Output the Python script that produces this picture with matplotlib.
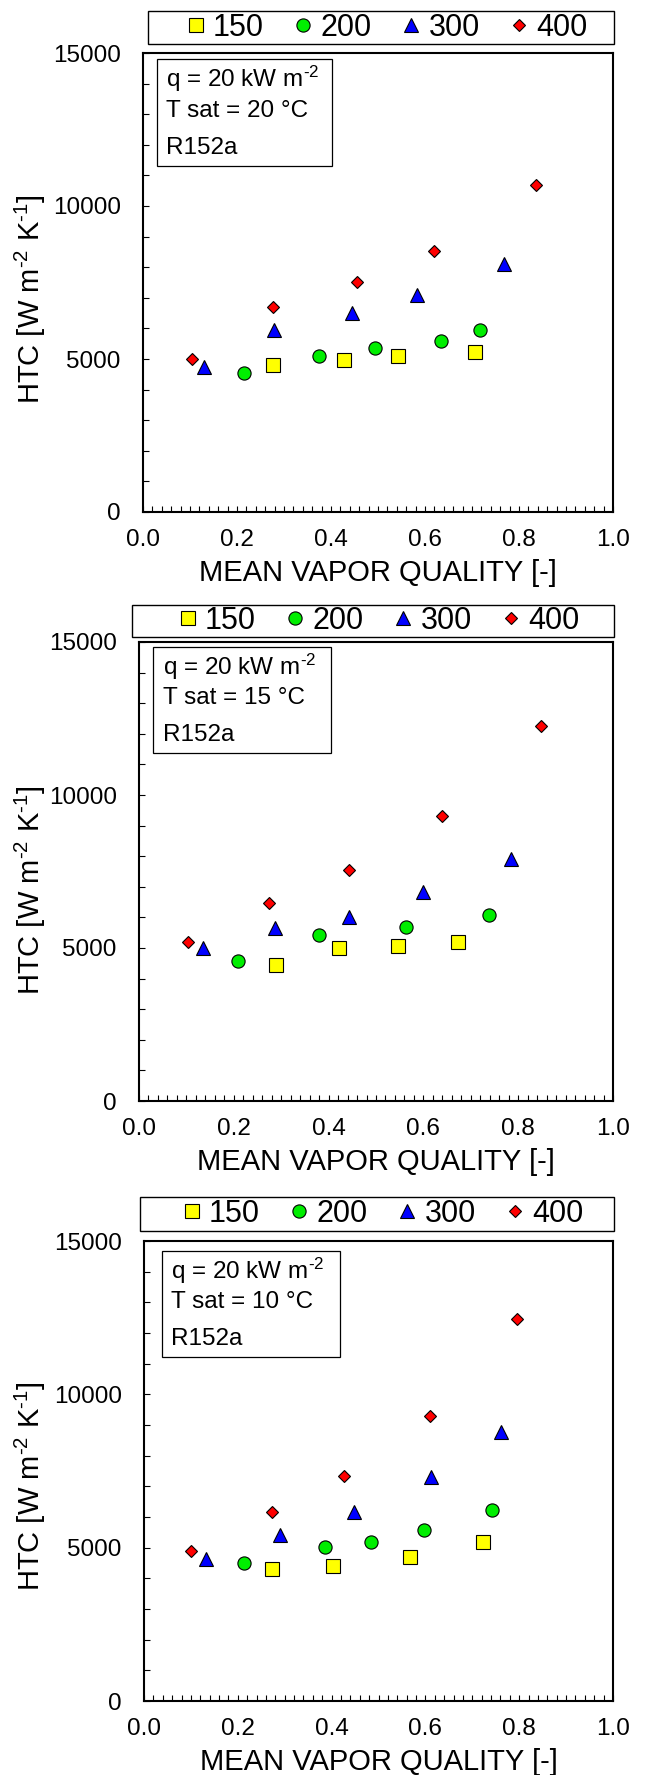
import matplotlib
matplotlib.use("Agg")
import matplotlib.pyplot as plt
from matplotlib.patches import Rectangle
from matplotlib.lines import Line2D
from matplotlib.ticker import MultipleLocator

plt.rcParams['font.family'] = ['Liberation Sans', 'DejaVu Sans']
plt.rcParams['mathtext.fontset'] = 'custom'
plt.rcParams['mathtext.rm'] = 'Liberation Sans'
plt.rcParams['mathtext.it'] = 'Liberation Sans'
plt.rcParams['mathtext.default'] = 'regular'

# ---------------- data ----------------
series_labels = ["150", "200", "300", "400"]
panel_tsat = ["20", "15", "10"]

# Tsat = 20 °C
x150_t20 = [0.276, 0.427, 0.543, 0.706]
y150_t20 = [4820, 4960, 5100, 5230]
x200_t20 = [0.214, 0.375, 0.493, 0.633, 0.718]
y200_t20 = [4550, 5110, 5350, 5600, 5940]
x300_t20 = [0.129, 0.279, 0.445, 0.584, 0.769]
y300_t20 = [4750, 5950, 6500, 7090, 8110]
x400_t20 = [0.104, 0.277, 0.456, 0.620, 0.837]
y400_t20 = [5010, 6700, 7510, 8540, 10680]

# Tsat = 15 °C
x150_t15 = [0.289, 0.421, 0.546, 0.672]
y150_t15 = [4440, 4990, 5050, 5190]
x200_t15 = [0.208, 0.379, 0.563, 0.738]
y200_t15 = [4560, 5410, 5700, 6070]
x300_t15 = [0.134, 0.286, 0.444, 0.600, 0.784]
y300_t15 = [4990, 5650, 6020, 6830, 7920]
x400_t15 = [0.103, 0.275, 0.443, 0.640, 0.848]
y400_t15 = [5210, 6460, 7540, 9310, 12270]

# Tsat = 10 °C
x150_t10 = [0.273, 0.404, 0.568, 0.722]
y150_t10 = [4320, 4400, 4700, 5190]
x200_t10 = [0.214, 0.385, 0.485, 0.596, 0.741]
y200_t10 = [4500, 5030, 5200, 5570, 6240]
x300_t10 = [0.133, 0.289, 0.447, 0.611, 0.762]
y300_t10 = [4620, 5400, 6150, 7320, 8770]
x400_t10 = [0.101, 0.273, 0.426, 0.610, 0.795]
y400_t10 = [4880, 6170, 7330, 9300, 12460]

panels_data = [
    [(x150_t20, y150_t20), (x200_t20, y200_t20), (x300_t20, y300_t20), (x400_t20, y400_t20)],
    [(x150_t15, y150_t15), (x200_t15, y200_t15), (x300_t15, y300_t15), (x400_t15, y400_t15)],
    [(x150_t10, y150_t10), (x200_t10, y200_t10), (x300_t10, y300_t10), (x400_t10, y400_t10)],
]

# ---------------- styles ----------------
markers = ['s', 'o', '^', 'D']
colors = ['#FFFF00', '#00EE00', '#0000FF', '#FF0000']
msizes = [9.5, 9.5, 9.5, 6.5]

W, H = 646, 1775
fig = plt.figure(figsize=(W / 100, H / 100), dpi=100)

HY = "\u2010"  # hyphen for superscripts

# axes boxes in pixels: left, top, right, bottom
ax_px = [(143, 53, 613, 512), (139, 642, 613, 1101), (144, 1241, 613, 1701)]
leg_px = [(148, 11, 614, 44), (132, 605, 614, 637), (140, 1197, 614, 1231)]
ann_box = [(0.030, 0.753, 0.403, 0.987), (0.030, 0.758, 0.405, 0.989), (0.038, 0.747, 0.418, 0.979)]
ann_x = [0.049, 0.050, 0.057]
ann_y = [(0.944, 0.874, 0.794), (0.946, 0.879, 0.798), (0.935, 0.868, 0.788)]
ylab_cy = [299, 890, 1486]

for i in range(3):
    l, t, r, b = ax_px[i]
    ax = fig.add_axes([l / W, 1 - b / H, (r - l) / W, (b - t) / H])
    for j in range(4):
        xs, ys = panels_data[i][j]
        ax.plot(xs, ys, linestyle='none', marker=markers[j], markersize=msizes[j],
                markerfacecolor=colors[j], markeredgecolor='black', markeredgewidth=0.8,
                zorder=3)
    ax.set_xlim(0, 1.0)
    ax.set_ylim(0, 15000)
    ax.xaxis.set_major_locator(MultipleLocator(0.2))
    ax.xaxis.set_minor_locator(MultipleLocator(0.02))
    ax.yaxis.set_major_locator(MultipleLocator(5000))
    ax.yaxis.set_minor_locator(MultipleLocator(1000))
    ax.xaxis.set_major_formatter(plt.FuncFormatter(lambda v, p: f"{v:.1f}"))
    ax.tick_params(axis='both', which='both', direction='in', length=4, width=0.8,
                   top=False, right=False, labelsize=17.5, colors='black')
    ax.tick_params(axis='x', which='major', pad=12)
    ax.tick_params(axis='y', which='major', pad=16)
    for sp in ax.spines.values():
        sp.set_linewidth(1.5)

    ax.set_xlabel("MEAN VAPOR QUALITY [-]", fontsize=21)
    ax.xaxis.set_label_coords(0.5, -61 / (b - t))
    ax.xaxis.label.set_verticalalignment('center')

    ax.set_ylabel("HTC [W m$^{" + HY + "2}$ K$^{" + HY + "1}$]", fontsize=21)
    ax.yaxis.set_label_coords((30 - l) / (r - l), (b - ylab_cy[i]) / (b - t))
    ax.yaxis.label.set_verticalalignment('center')

    # annotation box
    x0, y0, x1, y1 = ann_box[i]
    ax.add_patch(Rectangle((x0, y0), x1 - x0, y1 - y0, transform=ax.transAxes,
                           fill=True, facecolor='white', edgecolor='black', linewidth=0.9,
                           zorder=2))
    lines = ["q = 20 kW m$^{" + HY + "2}$", f"T sat = {panel_tsat[i]} °C", "R152a"]
    for k in range(3):
        ax.text(ann_x[i], ann_y[i][k], lines[k], transform=ax.transAxes,
                fontsize=17.5, ha='left', va='center', zorder=4)

    # legend with manual frame
    ll, lt, lr, lb = leg_px[i]
    fig.patches.append(Rectangle((ll / W, 1 - lb / H), (lr - ll) / W, (lb - lt) / H,
                                 transform=fig.transFigure, fill=False,
                                 edgecolor='black', linewidth=1.0))
    handles = [Line2D([], [], linestyle='none', marker=markers[j], markersize=msizes[j],
                      markerfacecolor=colors[j], markeredgecolor='black',
                      markeredgewidth=0.8) for j in range(4)]
    fig.legend(handles, series_labels, loc='center',
               bbox_to_anchor=((ll + lr) / 2 / W + 0.010, 1 - (lt + lb) / 2 / H),
               ncol=4, frameon=False, fontsize=22, handlelength=0.55,
               handletextpad=0.28, columnspacing=1.03, borderpad=0.0)

fig.savefig("out.png", dpi=100)
